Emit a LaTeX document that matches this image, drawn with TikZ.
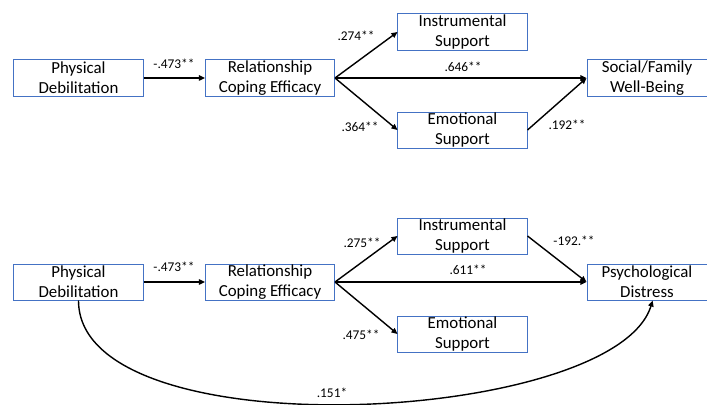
\documentclass[tikz,border=0pt]{standalone}
\usepackage{fontspec}
\setmainfont{Carlito}
\usetikzlibrary{arrows.meta}
\definecolor{boxblue}{HTML}{4472C4}
\tikzset{
  var/.style={draw=boxblue, line width=0.7pt, minimum width=3.225cm, minimum height=0.9cm,
    inner sep=0pt, align=center, font=\fontsize{12}{14.2}\selectfont},
  var2/.style={var, minimum width=3cm},
  coef/.style={inner sep=0pt, font=\fontsize{9.5}{11}\selectfont},
  path/.style={line width=1pt, -{Triangle[length=4.3pt,width=3.8pt]}}
}
\begin{document}
\begin{tikzpicture}[x=0.025cm, y=-0.025cm]
\useasboundingbox (0,0) rectangle (707,405);
% top model
\node[var] (pd1) at (78.5,78) {Physical\\Debilitation};
\node[var] (rce1) at (270,78) {Relationship\\Coping Efficacy};
\node[var] (is1) at (462.5,32) {Instrumental\\Support};
\node[var] (es1) at (462.5,130) {Emotional\\Support};
\node[var2] (sfw) at (647,78) {Social/Family\\Well-Being};
\draw[path] (pd1.east) -- (rce1.west);
\draw[path] (rce1.east) -- (is1.west);
\draw[path] (rce1.east) -- (es1.west);
\draw[path] (rce1.east) -- (sfw.west);
\draw[path] (es1.east) -- (sfw.west);
\node[coef] (c1) at (174,64) {-.473**};
\node[coef] (c2) at (356,36) {.274**};
\node[coef] (c3) at (463,67) {.646**};
\node[coef] (c4) at (360,127) {.364**};
\node[coef] (c5) at (567,125) {.192**};
% bottom model
\node[var] (pd2) at (78.5,282) {Physical\\Debilitation};
\node[var] (rce2) at (270,282) {Relationship\\Coping Efficacy};
\node[var] (is2) at (462.5,236) {Instrumental\\Support};
\node[var] (es2) at (462.5,334) {Emotional\\Support};
\node[var2] (pdist) at (647,282) {Psychological\\Distress};
\draw[path] (pd2.east) -- (rce2.west);
\draw[path] (rce2.east) -- (is2.west);
\draw[path] (rce2.east) -- (es2.west);
\draw[path] (rce2.east) -- (pdist.west);
\draw[path] (is2.east) -- (pdist.west);
\draw[path] (pd2.south) .. controls +(0,152) and +(-38,124) .. ([xshift=4]pdist.south);
\node[coef] (c6) at (174,267) {-.473**};
\node[coef] (c7) at (362,243) {.275**};
\node[coef] (c8) at (468,270) {.611**};
\node[coef] (c9) at (361,335) {.475**};
\node[coef] (c10) at (574,241) {-192.**};
\node[coef] (c11) at (332,393) {.151*};
\end{tikzpicture}
\end{document}
